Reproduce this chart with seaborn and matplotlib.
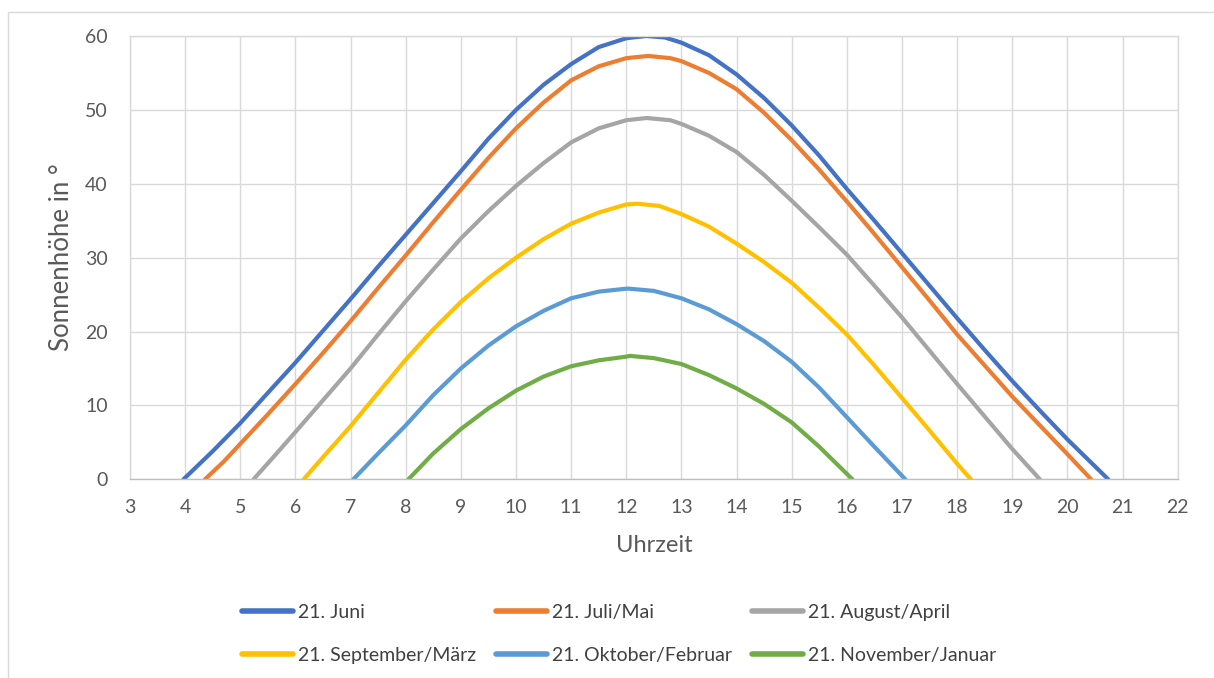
import matplotlib
matplotlib.use("Agg")
import matplotlib.pyplot as plt
import matplotlib.patches as mpatches
import seaborn as sns

# Sonnenhöhe (°) über der Uhrzeit, je Monatstag
labels = ["21. Juni", "21. Juli/Mai", "21. August/April",
          "21. September/März", "21. Oktober/Februar", "21. November/Januar"]
colors = ["#4472C4", "#ED7D31", "#A5A5A5", "#FFC000", "#5B9BD5", "#70AD47"]

juni_t = [3.97, 4.5, 5, 5.5, 6, 6.5, 7, 7.5, 8, 8.5, 9, 9.5, 10, 10.5, 11, 11.5, 12,
          12.36, 12.7, 13, 13.5, 14, 14.5, 15, 15.5, 16, 16.5, 17, 17.5, 18, 18.5,
          19, 19.5, 20, 20.74]
juni_h = [0, 3.8, 7.6, 11.7, 15.8, 20.1, 24.4, 28.8, 33.1, 37.4, 41.7, 46.1, 50.0,
          53.4, 56.2, 58.5, 59.7, 60.0, 59.8, 59.1, 57.4, 54.8, 51.6, 47.9, 43.8,
          39.3, 35.0, 30.6, 26.2, 21.8, 17.5, 13.3, 9.3, 5.4, 0]

juli_t = [4.36, 4.7, 5, 5.5, 6, 6.5, 7, 7.5, 8, 8.5, 9, 9.5, 10, 10.5, 11, 11.5, 12,
          12.4, 12.8, 13, 13.5, 14, 14.5, 15, 15.5, 16, 16.5, 17, 17.5, 18, 18.5,
          19, 19.5, 20, 20.43]
juli_h = [0, 2.4, 4.8, 8.8, 12.9, 17.1, 21.4, 25.9, 30.3, 34.8, 39.2, 43.5, 47.5,
          51.0, 54.0, 55.9, 57.0, 57.3, 57.0, 56.6, 55.0, 52.8, 49.6, 45.9, 41.9,
          37.6, 33.2, 28.7, 24.2, 19.6, 15.4, 11.2, 7.3, 3.4, 0]

aug_t = [5.24, 5.6, 6, 6.5, 7, 7.5, 8, 8.5, 9, 9.5, 10, 10.5, 11, 11.5, 12, 12.37,
         12.8, 13, 13.5, 14, 14.5, 15, 15.5, 16, 16.5, 17, 17.5, 18, 18.5, 19, 19.5]
aug_h = [0, 3.0, 6.4, 10.7, 15.0, 19.6, 24.1, 28.4, 32.6, 36.3, 39.7, 42.8, 45.6,
         47.5, 48.6, 48.9, 48.6, 48.1, 46.5, 44.3, 41.2, 37.7, 34.1, 30.4, 26.2,
         21.9, 17.4, 12.9, 8.5, 4.1, 0]

sep_t = [6.15, 6.5, 7, 7.5, 8, 8.5, 9, 9.5, 10, 10.5, 11, 11.5, 12, 12.2, 12.6, 13,
         13.5, 14, 14.5, 15, 15.5, 16, 16.5, 17, 17.5, 18, 18.25]
sep_h = [0, 3.0, 7.2, 11.7, 16.2, 20.3, 24.0, 27.2, 30.0, 32.5, 34.6, 36.1, 37.2,
         37.3, 37.0, 35.9, 34.2, 31.9, 29.4, 26.6, 23.2, 19.6, 15.4, 11.0, 6.6, 2.1, 0]

okt_t = [7.05, 7.5, 8, 8.5, 9, 9.5, 10, 10.5, 11, 11.5, 12, 12.05, 12.5, 13, 13.5,
         14, 14.5, 15, 15.5, 16, 16.5, 17.06]
okt_h = [0, 3.5, 7.3, 11.4, 15.0, 18.1, 20.7, 22.8, 24.5, 25.4, 25.8, 25.8, 25.5,
         24.5, 23.0, 21.0, 18.7, 15.9, 12.4, 8.4, 4.4, 0]

nov_t = [8.05, 8.5, 9, 9.5, 10, 10.5, 11, 11.5, 12, 12.07, 12.5, 13, 13.5, 14, 14.5,
         15, 15.5, 16.1]
nov_h = [0, 3.5, 6.8, 9.6, 12.0, 13.9, 15.3, 16.1, 16.6, 16.7, 16.4, 15.6, 14.1,
         12.3, 10.2, 7.7, 4.4, 0]

series_t = [juni_t, juli_t, aug_t, sep_t, okt_t, nov_t]
series_h = [juni_h, juli_h, aug_h, sep_h, okt_h, nov_h]

x_ticks = list(range(3, 23))
y_ticks = [0, 10, 20, 30, 40, 50, 60]

sns.set_theme(style="whitegrid")
plt.rcParams["font.family"] = ["Lato", "DejaVu Sans"]

fig = plt.figure(figsize=(12.14, 6.78), dpi=100)
ax = fig.add_axes([0.1071, 0.2931, 0.8630, 0.6538])

grid_col = "#D9D9D9"
text_col = "#595959"

for t, h, lab, col in zip(series_t, series_h, labels, colors):
    sns.lineplot(x=t, y=h, ax=ax, color=col, linewidth=3.0, label=lab,
                 sort=False, estimator=None)
for line in ax.get_lines():
    line.set_solid_joinstyle("round")
    line.set_solid_capstyle("round")

ax.set_xlim(3, 22)
ax.set_ylim(0, 60)
ax.set_xticks(x_ticks)
ax.set_yticks(y_ticks)
ax.grid(True, color=grid_col, linewidth=1.0)
ax.set_axisbelow(True)
for side in ["left", "right", "top"]:
    ax.spines[side].set_color(grid_col)
    ax.spines[side].set_linewidth(1.0)
ax.spines["bottom"].set_color("#BFBFBF")
ax.spines["bottom"].set_linewidth(1.0)
ax.tick_params(axis="both", length=0, labelsize=14, labelcolor=text_col)
ax.tick_params(axis="x", pad=14)
ax.tick_params(axis="y", pad=16)

ax.set_xlabel("Uhrzeit", fontsize=17, color=text_col, labelpad=14)
ax.set_ylabel("Sonnenhöhe in °", fontsize=18.5, color=text_col, labelpad=8)

# legend in two rows, three columns (column-major ordering)
handles, labs = ax.get_legend_handles_labels()
order = [0, 3, 1, 4, 2, 5]
leg = ax.legend([handles[i] for i in order], [labs[i] for i in order],
                ncol=3, loc="center", bbox_to_anchor=(0.51, 0.065),
                bbox_transform=fig.transFigure, frameon=False,
                fontsize=14, handlelength=2.65, handletextpad=0.25,
                columnspacing=1.0, labelspacing=1.3, labelcolor="#404040")
for lh in leg.get_lines():
    lh.set_linewidth(4.0)

# light frame around the whole chart area
frame = mpatches.Rectangle((8 / 1214, -0.05), 1.1, 1 - 12 / 678 + 0.05,
                           transform=fig.transFigure, fill=False,
                           edgecolor="#D9D9D9", linewidth=1.0)
fig.patches.append(frame)

fig.savefig("out.png", dpi=100, facecolor="white")
